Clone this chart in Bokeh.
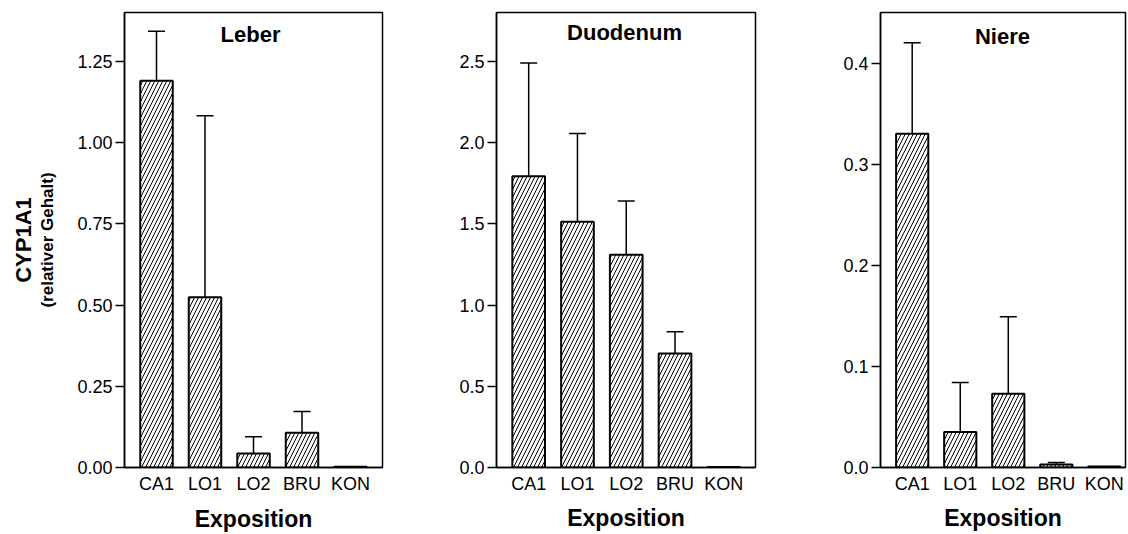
from bokeh.plotting import figure
from bokeh.layouts import row
from bokeh.models import (ColumnDataSource, Whisker, TeeHead, FixedTicker,
                          NumeralTickFormatter, Label, Range1d, LinearAxis)
from bokeh.embed import file_html
from bokeh.resources import INLINE

# ---------------- data ----------------
categories = ["CA1", "LO1", "LO2", "BRU", "KON"]

leber_mean = [1.19, 0.524, 0.043, 0.107, 0.002]
leber_err = [0.152, 0.558, 0.052, 0.065, 0.0]

duodenum_mean = [1.793, 1.512, 1.309, 0.701, 0.003]
duodenum_err = [0.697, 0.543, 0.331, 0.135, 0.0]

niere_mean = [0.330, 0.035, 0.073, 0.003, 0.001]
niere_err = [0.090, 0.049, 0.076, 0.002, 0.0]

leber_ticks = [0.0, 0.25, 0.5, 0.75, 1.0, 1.25]
duodenum_ticks = [0.0, 0.5, 1.0, 1.5, 2.0, 2.5]
niere_ticks = [0.0, 0.1, 0.2, 0.3, 0.4]

FONT = "Liberation Sans"
HEIGHT = 534
TOP = 12
X0 = -0.66


def panel(title, means, errs, ticks, ymax, fmt, width, border_left, frame_w,
          frame_h, x_end, title_dx, title_dy, xlabel_standoff, ylabel=False):
    border_right = width - border_left - frame_w
    border_bottom = HEIGHT - TOP - frame_h
    p = figure(width=width, height=HEIGHT, output_backend="svg",
               toolbar_location=None,
               x_range=Range1d(X0, x_end), y_range=Range1d(0, ymax),
               min_border_left=border_left, min_border_right=border_right,
               min_border_top=TOP, min_border_bottom=border_bottom)
    p.background_fill_color = "white"
    p.border_fill_color = "white"
    p.outline_line_color = "black"
    p.outline_line_width = 1.5
    p.grid.visible = False

    unit_x = frame_w / (x_end - X0)
    unit_y = frame_h / ymax

    xs = list(range(len(categories)))
    src = ColumnDataSource(dict(x=xs, top=means))
    p.vbar(x="x", top="top", width=0.67, source=src, fill_color="white",
           line_color="black", line_width=2, hatch_pattern="/",
           hatch_color="black", hatch_scale=8, hatch_weight=1)

    ex = [x for x, e in zip(xs, errs) if e > 0]
    lo = [m for m, e in zip(means, errs) if e > 0]
    hi = [m + e for m, e in zip(means, errs) if e > 0]
    esrc = ColumnDataSource(dict(x=ex, lower=lo, upper=hi))
    p.add_layout(Whisker(base="x", lower="lower", upper="upper", source=esrc,
                         dimension="height", line_color="black", line_width=1.5,
                         upper_head=TeeHead(size=17, line_width=1.5,
                                            line_color="black"),
                         lower_head=None, level="overlay"))

    # x axis
    xa = p.xaxis[0]
    xa.ticker = FixedTicker(ticks=xs)
    xa.major_label_overrides = {i: c for i, c in enumerate(categories)}
    xa.major_tick_out = 0
    xa.major_tick_in = 0
    xa.minor_tick_out = 0
    xa.minor_tick_in = 0
    xa.axis_line_width = 1.5
    xa.axis_line_color = "black"
    xa.major_label_text_font = FONT
    xa.major_label_text_font_size = "18px"
    xa.major_label_text_color = "black"
    xa.major_label_standoff = 6
    xa.axis_label = "Exposition"
    xa.axis_label_text_font = FONT
    xa.axis_label_text_font_size = "23px"
    xa.axis_label_text_font_style = "bold"
    xa.axis_label_text_color = "black"
    xa.axis_label_standoff = xlabel_standoff

    # y axis
    ya = p.yaxis[0]
    ya.ticker = FixedTicker(ticks=ticks)
    ya.formatter = NumeralTickFormatter(format=fmt)
    ya.major_tick_out = 9
    ya.major_tick_in = 0
    ya.minor_tick_out = 0
    ya.minor_tick_in = 0
    ya.major_tick_line_width = 1.5
    ya.axis_line_width = 1.5
    ya.axis_line_color = "black"
    ya.major_label_text_font = FONT
    ya.major_label_text_font_size = "18px"
    ya.major_label_text_color = "black"
    ya.major_label_standoff = 3

    if ylabel:
        ya.axis_label = "(relativer Gehalt)"
        ya.axis_label_text_font = FONT
        ya.axis_label_text_font_size = "17px"
        ya.axis_label_text_font_style = "bold"
        ya.axis_label_text_color = "black"
        ya.axis_label_standoff = 17
        outer = LinearAxis(ticker=FixedTicker(ticks=[]),
                           axis_line_color=None,
                           major_tick_out=0, major_tick_in=0,
                           minor_tick_out=0, minor_tick_in=0,
                           major_label_text_font_size="0px",
                           major_label_standoff=0,
                           axis_label="CYP1A1",
                           axis_label_text_font=FONT,
                           axis_label_text_font_size="22px",
                           axis_label_text_font_style="bold",
                           axis_label_text_color="black",
                           axis_label_standoff=0)
        p.add_layout(outer, "left")

    # title inside frame
    p.add_layout(Label(x=X0 + title_dx / unit_x, y=ymax - title_dy / unit_y,
                       text=title, text_font=FONT, text_font_size="22px",
                       text_font_style="bold", text_align="center",
                       text_baseline="middle", text_color="black"))
    return p


p1 = panel("Leber", leber_mean, leber_err, leber_ticks, 1.40, "0.00",
           width=384, border_left=124, frame_w=258, frame_h=459, x_end=4.66,
           title_dx=126, title_dy=22, xlabel_standoff=9, ylabel=True)
p2 = panel("Duodenum", duodenum_mean, duodenum_err, duodenum_ticks, 2.80, "0.0",
           width=373, border_left=112, frame_w=259, frame_h=462, x_end=4.65,
           title_dx=128, title_dy=20, xlabel_standoff=8)
p3 = panel("Niere", niere_mean, niere_err, niere_ticks, 0.45, "0.0",
           width=370, border_left=123, frame_w=245, frame_h=462, x_end=4.44,
           title_dx=122, title_dy=24, xlabel_standoff=8)

layout = row(p1, p2, p3)
open("out.html", "w").write(file_html(layout, INLINE))
